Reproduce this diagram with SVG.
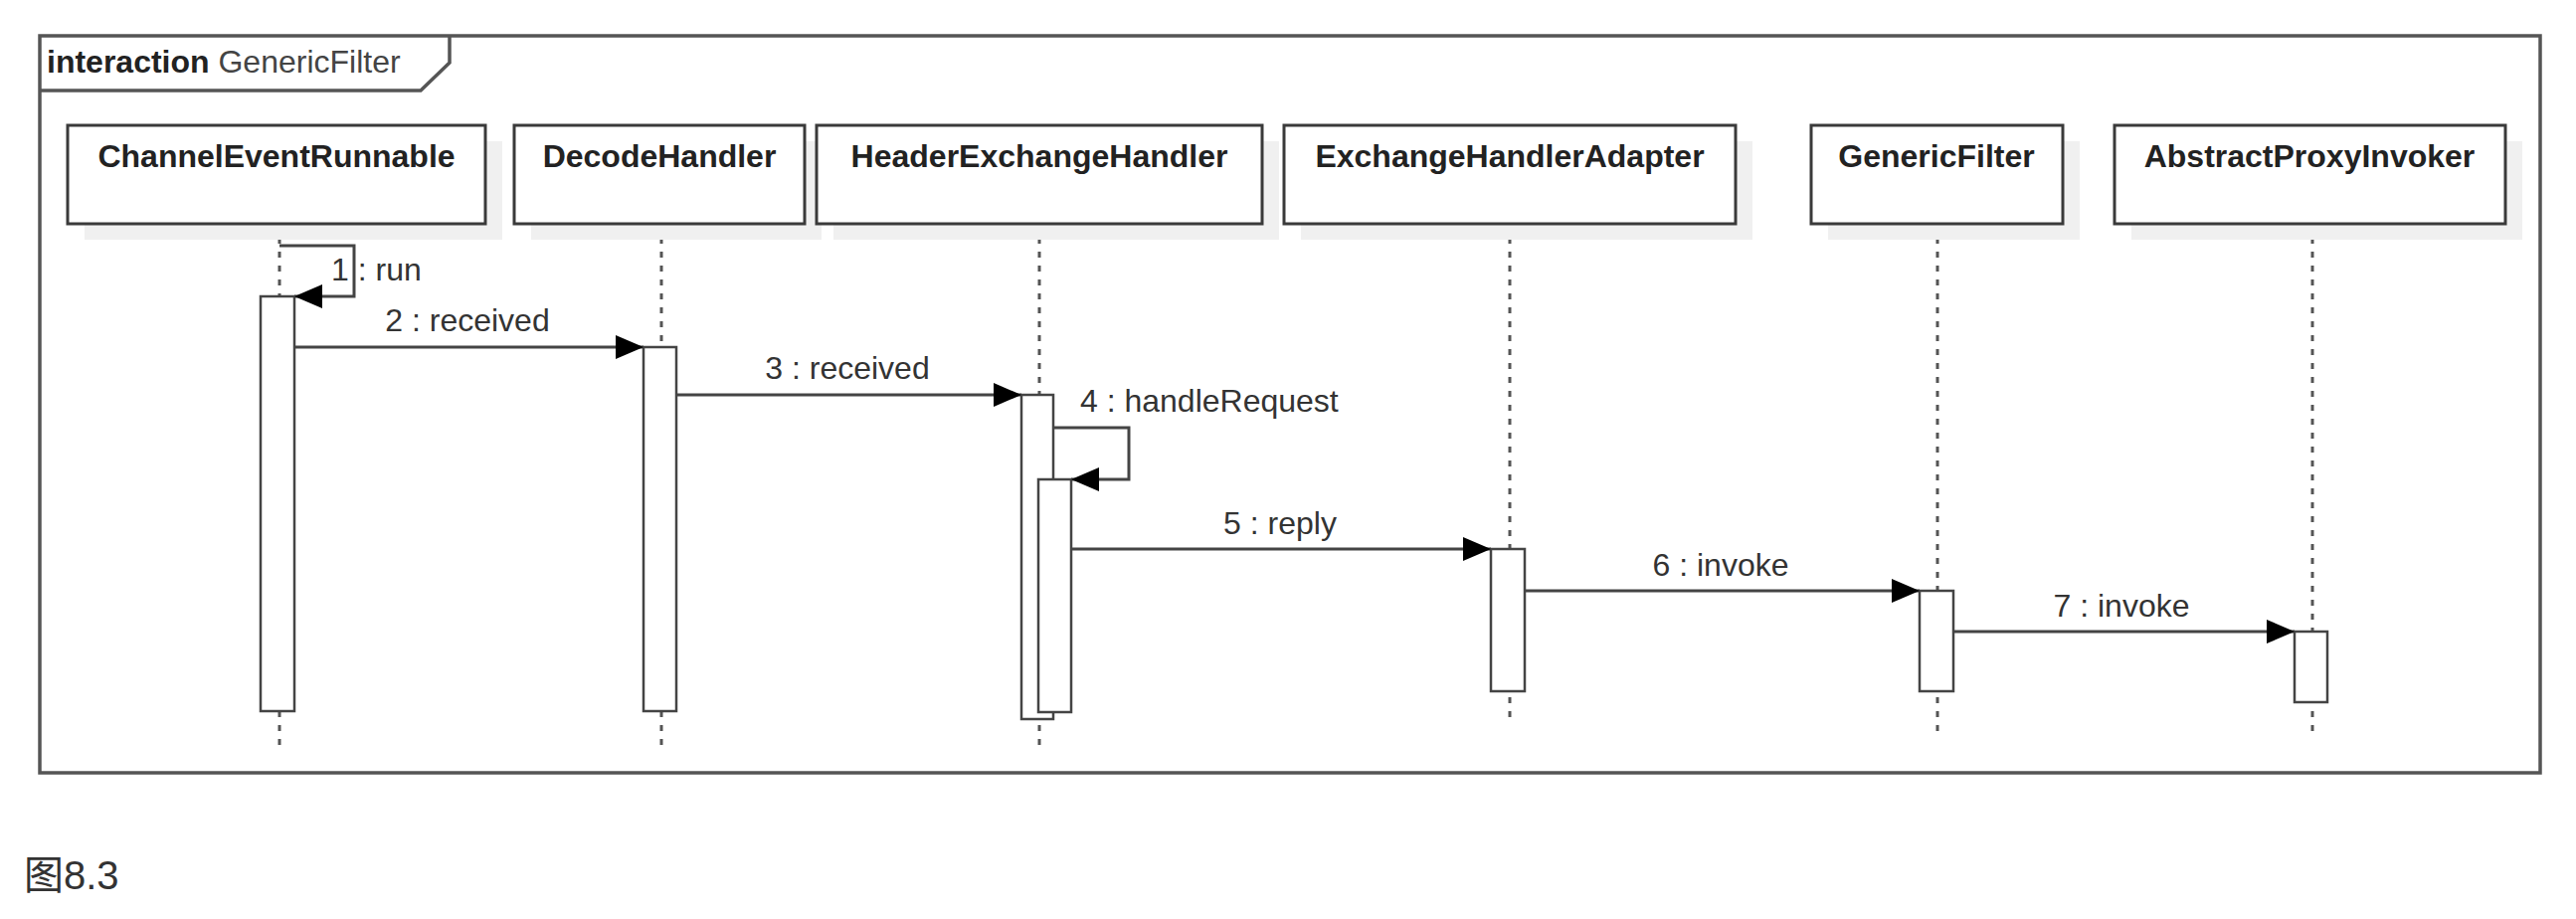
<svg xmlns="http://www.w3.org/2000/svg" width="2590" height="924" viewBox="0 0 2590 924">
<defs>
<style>
.frame{fill:none;stroke:#555;stroke-width:3.5}
.box{fill:#fff;stroke:#3a3a3a;stroke-width:3}
.shadow{fill:#f0f0f0;stroke:none}
.life{stroke:#555;stroke-width:3;stroke-dasharray:6 8;fill:none}
.act{fill:#fff;stroke:#444;stroke-width:2.5}
.msg{fill:none;stroke:#444;stroke-width:3;marker-end:url(#arr)}
.pname{font-family:"Liberation Sans",Arial,sans-serif;font-weight:bold;font-size:32px;fill:#222;text-anchor:middle}
.mlabel{font-family:"Liberation Sans",Arial,sans-serif;font-size:32px;fill:#333}
</style>
<marker id="arr" markerUnits="userSpaceOnUse" markerWidth="30" markerHeight="24" refX="28" refY="12" orient="auto">
<path d="M0,0 L28,12 L0,24 Z" fill="#000"/>
</marker>
</defs>
<rect width="2590" height="924" fill="#fff"/>

<g id="frame">
<rect class="frame" x="40" y="36" width="2514" height="741"/>
<path class="frame" d="M40,91 L423,91 L452,63 L452,36"/>
<text x="47" y="73" font-family="'Liberation Sans',Arial,sans-serif" font-size="32"><tspan font-weight="bold" fill="#222">interaction</tspan><tspan fill="#444"> GenericFilter</tspan></text>
</g>

<g id="lifelines">
<line class="life" x1="281" y1="225" x2="281" y2="755"/>
<line class="life" x1="665" y1="225" x2="665" y2="755"/>
<line class="life" x1="1045" y1="225" x2="1045" y2="755"/>
<line class="life" x1="1518" y1="225" x2="1518" y2="723"/>
<line class="life" x1="1948" y1="225" x2="1948" y2="738"/>
<line class="life" x1="2325" y1="225" x2="2325" y2="738"/>
</g>

<g id="p-ChannelEventRunnable">
<rect class="shadow" x="85" y="142" width="420" height="99"/>
<rect class="box" x="68" y="126" width="420" height="99"/>
<text class="pname" x="278" y="168">ChannelEventRunnable</text>
</g>
<g id="p-DecodeHandler">
<rect class="shadow" x="534" y="142" width="292" height="99"/>
<rect class="box" x="517" y="126" width="292" height="99"/>
<text class="pname" x="663" y="168">DecodeHandler</text>
</g>
<g id="p-HeaderExchangeHandler">
<rect class="shadow" x="838" y="142" width="448" height="99"/>
<rect class="box" x="821" y="126" width="448" height="99"/>
<text class="pname" x="1045" y="168">HeaderExchangeHandler</text>
</g>
<g id="p-ExchangeHandlerAdapter">
<rect class="shadow" x="1308" y="142" width="454" height="99"/>
<rect class="box" x="1291" y="126" width="454" height="99"/>
<text class="pname" x="1518" y="168">ExchangeHandlerAdapter</text>
</g>
<g id="p-GenericFilter">
<rect class="shadow" x="1838" y="142" width="253" height="99"/>
<rect class="box" x="1821" y="126" width="253" height="99"/>
<text class="pname" x="1947" y="168">GenericFilter</text>
</g>
<g id="p-AbstractProxyInvoker">
<rect class="shadow" x="2143" y="142" width="393" height="99"/>
<rect class="box" x="2126" y="126" width="393" height="99"/>
<text class="pname" x="2322" y="168">AbstractProxyInvoker</text>
</g>

<g id="activations">
<rect class="act" x="262" y="298" width="34" height="417"/>
<rect class="act" x="647" y="349" width="33" height="366"/>
<rect class="act" x="1027" y="397" width="32" height="326"/>
<rect class="act" x="1044" y="482" width="33" height="234"/>
<rect class="act" x="1499" y="552" width="34" height="143"/>
<rect class="act" x="1930" y="594" width="34" height="101"/>
<rect class="act" x="2307" y="635" width="33" height="71"/>
</g>

<g id="connectors">
<path class="msg" d="M281,247 L356,247 L356,298 L296,298"/>
<path class="msg" d="M296,349 L647,349"/>
<path class="msg" d="M680,397 L1027,397"/>
<path class="msg" d="M1059,430 L1135,430 L1135,482 L1077,482"/>
<path class="msg" d="M1077,552 L1499,552"/>
<path class="msg" d="M1533,594 L1930,594"/>
<path class="msg" d="M1964,635 L2307,635"/>
<text class="mlabel" x="333" y="282">1 : run</text>
<text class="mlabel" x="470" y="333" text-anchor="middle">2 : received</text>
<text class="mlabel" x="852" y="381" text-anchor="middle">3 : received</text>
<text class="mlabel" x="1086" y="414">4 : handleRequest</text>
<text class="mlabel" x="1287" y="537" text-anchor="middle">5 : reply</text>
<text class="mlabel" x="1730" y="579" text-anchor="middle">6 : invoke</text>
<text class="mlabel" x="2133" y="620" text-anchor="middle">7 : invoke</text>
</g>

<text x="24" y="894" font-family="'Liberation Sans','Noto Sans CJK SC',sans-serif" font-size="40" fill="#333">图8.3</text>
</svg>
